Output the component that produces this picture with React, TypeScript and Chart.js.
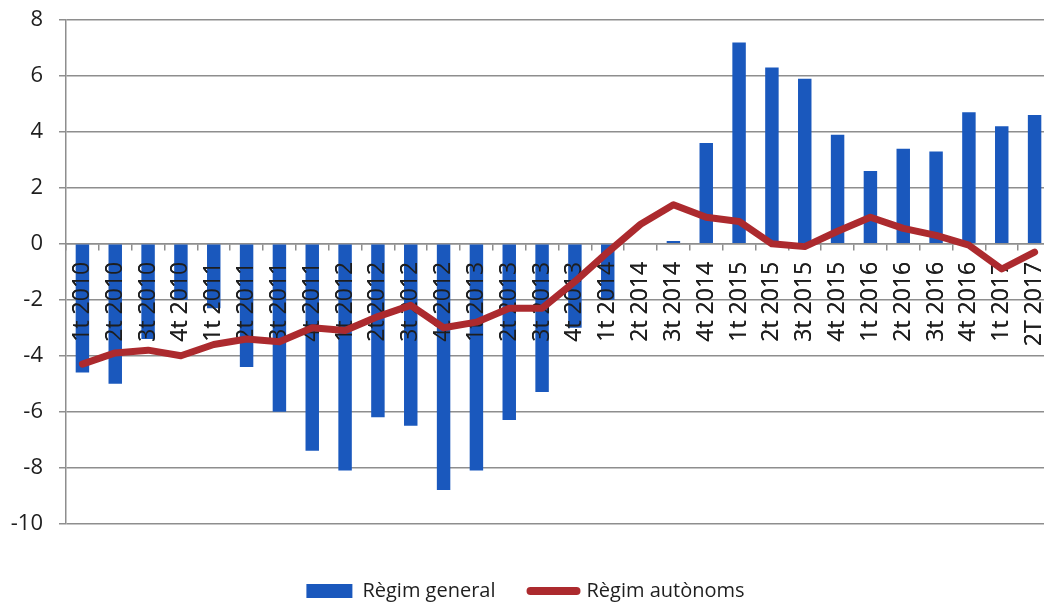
import React, { useEffect, useRef } from "react";
import { Chart, registerables } from "chart.js";

Chart.register(...registerables);

const categories: string[] = [
  "1t 2010", "2t 2010", "3t 2010", "4t 2010",
  "1t 2011", "2t 2011", "3t 2011", "4t 2011",
  "1t 2012", "2t 2012", "3t 2012", "4t 2012",
  "1t 2013", "2t 2013", "3t 2013", "4t 2013",
  "1t 2014", "2t 2014", "3t 2014", "4t 2014",
  "1t 2015", "2t 2015", "3t 2015", "4t 2015",
  "1t 2016", "2t 2016", "3t 2016", "4t 2016",
  "1t 2017", "2T 2017",
];

const regimGeneral: number[] = [
  -4.6, -5.0, -3.4, -2.0,
  -2.3, -4.4, -6.0, -7.4,
  -8.1, -6.2, -6.5, -8.8,
  -8.1, -6.3, -5.3, -3.0,
  -2.0, 0, 0.1, 3.6,
  7.2, 6.3, 5.9, 3.9,
  2.6, 3.4, 3.3, 4.7,
  4.2, 4.6,
];

const regimAutonoms: number[] = [
  -4.3, -3.9, -3.8, -4.0,
  -3.6, -3.4, -3.5, -3.0,
  -3.1, -2.6, -2.2, -3.0,
  -2.8, -2.3, -2.3, -1.35,
  -0.3, 0.7, 1.4, 0.95,
  0.8, 0.0, -0.1, 0.45,
  0.95, 0.55, 0.3, -0.05,
  -0.9, -0.3,
];

const seriesNames: string[] = ["Règim general", "Règim autònoms"];
const yTicks = { min: -10, max: 8, step: 2 };

const BLUE = "#1a58bd";
const RED = "#ac2a2e";
const GRID = "#8e8e8e";
const TEXT = "#1e1e1e";
const FONT = "'Open Sans', sans-serif";

const labelsOverBars = {
  id: "labelsOverBars",
  afterDatasetDraw(chart: any, args: any) {
    if (!args.meta || args.meta.type !== "bar") return;
    const sx: any = chart.scales.x;
    if (sx && typeof sx.drawLabels === "function") {
      chart.ctx.save();
      sx.drawLabels(chart.chartArea);
      chart.ctx.restore();
    }
  },
};

export default function App() {
  const ref = useRef<HTMLCanvasElement | null>(null);

  useEffect(() => {
    if (!ref.current) return;
    const chart = new Chart(ref.current, {
      type: "bar",
      data: {
        labels: categories,
        datasets: [
          {
            type: "bar",
            label: seriesNames[0],
            data: regimGeneral,
            backgroundColor: BLUE,
            borderWidth: 0,
            barPercentage: 0.41,
            categoryPercentage: 1,
            order: 1,
          } as any,
          {
            type: "line",
            label: seriesNames[1],
            data: regimAutonoms,
            borderColor: RED,
            backgroundColor: RED,
            borderWidth: 7,
            pointRadius: 0,
            tension: 0,
            borderCapStyle: "round",
            borderJoinStyle: "round",
            order: 0,
          } as any,
        ],
      },
      options: {
        animation: false,
        responsive: false,
        maintainAspectRatio: false,
        layout: { padding: { top: 20, right: 13, left: 0, bottom: 0 } },
        plugins: {
          tooltip: { enabled: false },
          legend: {
            display: true,
            position: "bottom",
            title: {
              display: true,
              text: " ",
              font: { size: 2 },
              padding: { top: 20, bottom: 0 },
            },
            labels: {
              usePointStyle: true,
              pointStyleWidth: 46,
              boxHeight: 14,
              padding: 35,
              color: TEXT,
              font: { family: FONT, size: 20 },
              generateLabels: () => [
                {
                  text: seriesNames[0],
                  fillStyle: BLUE,
                  strokeStyle: BLUE,
                  lineWidth: 0,
                  pointStyle: "rect",
                  hidden: false,
                  datasetIndex: 0,
                  fontColor: TEXT,
                },
                {
                  text: seriesNames[1],
                  fillStyle: RED,
                  strokeStyle: RED,
                  lineWidth: 8,
                  lineCap: "round",
                  pointStyle: "line",
                  hidden: false,
                  datasetIndex: 1,
                  fontColor: TEXT,
                },
              ] as any,
            },
          },
        },
        scales: {
          x: {
            position: { y: 0 } as any,
            grid: {
              display: true,
              drawOnChartArea: false,
              drawTicks: true,
              tickLength: 6,
              color: GRID,
              lineWidth: 1.5,
              offset: true,
            },
            border: { display: true, color: GRID, width: 1.5 },
            ticks: {
              autoSkip: false,
              maxRotation: 90,
              minRotation: 90,
              padding: 12,
              color: TEXT,
              font: { family: FONT, size: 23 },
            },
            afterFit: (s: any) => {
              s.paddingLeft = 0;
              s.paddingRight = 0;
            },
          },
          y: {
            min: yTicks.min,
            max: yTicks.max,
            grid: {
              color: GRID,
              lineWidth: 1.5,
              drawTicks: true,
              tickLength: 7,
            },
            border: { display: true, color: GRID, width: 1.5 },
            ticks: {
              stepSize: yTicks.step,
              padding: 16,
              color: TEXT,
              font: { family: FONT, size: 22 },
            },
            afterFit: (s: any) => {
              s.width = 66;
              s.paddingTop = 8;
              s.paddingBottom = 8;
            },
          },
        },
      },
      plugins: [labelsOverBars],
    });
    return () => chart.destroy();
  }, []);

  return (
    <div
      style={{
        position: "fixed",
        left: 0,
        top: 0,
        width: 1044,
        height: 606,
        overflow: "hidden",
        background: "#ffffff",
      }}
    >
      <canvas
        ref={ref}
        width={1064}
        height={611}
        style={{ display: "block", width: 1064, height: 611 }}
      />
    </div>
  );
}
